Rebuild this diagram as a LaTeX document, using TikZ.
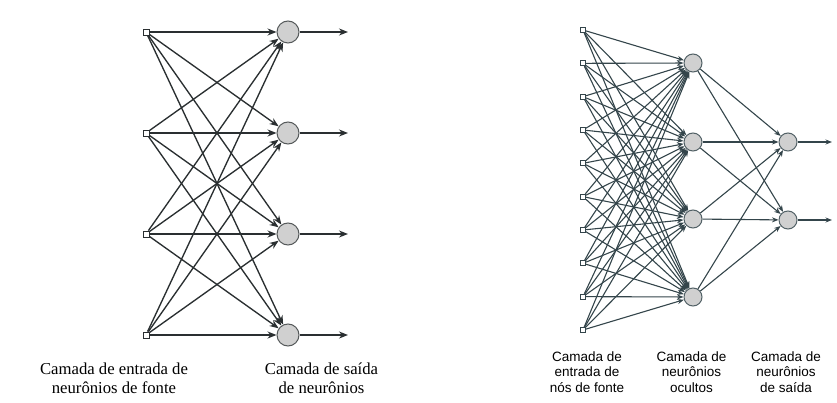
\documentclass[tikz,border=0pt]{standalone}
\usepackage{fontspec}
\setmainfont{Liberation Serif}
\newfontfamily\lblsans{Liberation Sans}
\usetikzlibrary{arrows.meta}
\definecolor{lineL}{HTML}{2A2F31}
\definecolor{lineR}{HTML}{34454B}
\definecolor{nfill}{HTML}{D0D0D0}
\tikzset{
  inL/.style={draw=lineL, fill=white, rectangle, minimum size=6pt, inner sep=0pt, line width=0.8pt},
  neuL/.style={draw=lineL!80, fill=nfill, circle, minimum size=22pt, inner sep=0pt, line width=1pt},
  edgeL/.style={draw=lineL, line width=1.35pt, -{Stealth[length=9pt,width=7pt]}},
  inR/.style={draw=lineR, fill=white, rectangle, minimum size=5pt, inner sep=0pt, line width=0.7pt},
  neuR/.style={draw=lineR!85, fill=nfill, circle, minimum size=18pt, inner sep=0pt, line width=1pt},
  edgeR/.style={draw=lineR, line width=1.1pt, -{Stealth[length=6.5pt,width=5pt]}},
  lblL/.style={align=center, font=\fontsize{16.7}{19}\selectfont, text=black, inner sep=0pt, anchor=base},
  lblR/.style={align=center, font=\lblsans\fontsize{13.5}{15.5}\selectfont, text=black, inner sep=0pt, anchor=base},
}
\begin{document}
\begin{tikzpicture}[x=1pt,y=-1pt]
\useasboundingbox (0,0) rectangle (837,403);
% ---------- left network ----------
\foreach \i/\y in {1/32,2/133,3/234,4/335}{
  \node[inL] (a\i) at (146,\y) {};
  \node[neuL] (b\i) at (288,\y) {};
  \coordinate (o\i) at (348,\y);
}
\foreach \i in {1,...,4}{
  \foreach \j in {1,...,4}{
    \draw[edgeL] (a\i) -- (b\j);
  }
  \draw[edgeL] (b\i) -- (o\i);
}
\node[lblL] (tl1) at (114,393) {Camada de entrada de\\neurônios de fonte};
\node[lblL] (tl2) at (321.5,393) {Camada de saída\\de neurônios};
% ---------- right network ----------
\foreach \i in {1,...,10}{
  \node[inR] (x\i) at (583,{30+(\i-1)*33.33}) {};
}
\foreach \i/\y in {1/63,2/142,3/219,4/297}{
  \node[neuR] (h\i) at (693,\y) {};
}
\foreach \i/\y in {1/142,2/220}{
  \node[neuR] (y\i) at (788,\y) {};
  \coordinate (z\i) at (832,\y);
}
\foreach \i in {1,...,10}{
  \foreach \j in {1,...,4}{
    \draw[edgeR] (x\i) -- (h\j);
  }
}
\foreach \j in {1,...,4}{
  \foreach \k in {1,2}{
    \draw[edgeR] (h\j) -- (y\k);
  }
}
\foreach \k in {1,2}{
  \draw[edgeR] (y\k) -- (z\k);
}
\node[lblR] (tr1) at (587,392) {Camada de\\entrada de\\nós de fonte};
\node[lblR] (tr2) at (691.5,392) {Camada de\\neurônios\\ocultos};
\node[lblR] (tr3) at (786,392) {Camada de\\neurônios\\de saída};
\end{tikzpicture}
\end{document}
